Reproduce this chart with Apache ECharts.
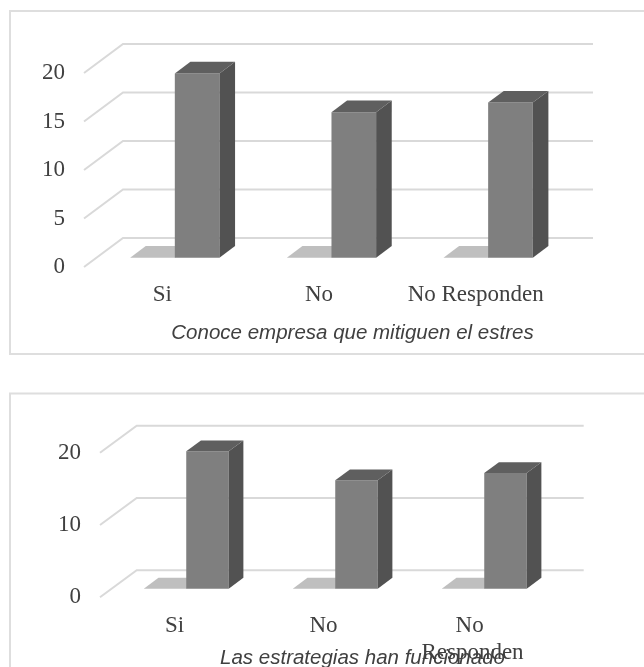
<!DOCTYPE html>
<html>
<head>
<meta charset="utf-8">
<script src="https://cdn.jsdelivr.net/npm/echarts@6/dist/echarts.min.js"></script>
<style>
  html, body { margin: 0; padding: 0; background: #ffffff; }
  #chart { width: 644px; height: 667px; }
</style>
</head>
<body>
<div id="chart"></div>
<script>
// ---- data ----
const categories = ['Si', 'No', 'No Responden'];
const conoceTitle = 'Conoce empresa que mitiguen el estres';
const conoceFlat = [0, 0, 0];        // light series (all zero, drawn as floor tiles)
const conoceValues = [19, 15, 16];   // dark series
const conoceTicks = [0, 5, 10, 15, 20];

const estrategiasTitle = 'Las estrategias han funcionado';
const estrategiasFlat = [0, 0, 0];
const estrategiasValues = [19, 15, 16];
const estrategiasTicks = [0, 10, 20];

// ---- 3D look ----
const FRONT = 0.32;     // depth fraction of the bars' front faces
const BACK = 0.72;      // depth fraction of the bars' back faces
const BAR_FRAC = 0.285; // bar width as a share of the category band
const GRID_LINE = '#d9d9d9';
const TEXT = '#404040';
const SERIF = "'Liberation Serif', 'Times New Roman', serif";
const SANS = "'Liberation Sans', Arial, sans-serif";

const palettes = [
  { front: '#bfbfbf', side: '#a6a6a6', top: '#bfbfbf' },
  { front: '#7f7f7f', side: '#525252', top: '#5f5f5f' }
];

const panels = [
  { grid: { left: 84, top: 73, width: 470, height: 194 }, depth: { dx: 39, dy: 29 },
    ticks: conoceTicks, interval: 5, series: [conoceFlat, conoceValues],
    labelMargin: 14.5, labelLineHeight: 27, wrap: false },
  { grid: { left: 100, top: 452.7, width: 447, height: 144.6 }, depth: { dx: 36.7, dy: 27 },
    ticks: estrategiasTicks, interval: 10, series: [estrategiasFlat, estrategiasValues],
    labelMargin: 14.5, labelLineHeight: 27.6, wrap: true }
];

function wallRenderer(depth) {
  return function (params, api) {
    const cs = params.coordSys;
    const y = api.coord([0, api.value(1)])[1];
    const xl = cs.x, xr = cs.x + cs.width;
    return {
      type: 'polyline',
      shape: { points: [[xl, y], [xl + depth.dx, y - depth.dy], [xr + depth.dx, y - depth.dy]] },
      style: { stroke: GRID_LINE, lineWidth: 2, fill: null }
    };
  };
}

function boxRenderer(depth, k, pal) {
  return function (params, api) {
    const i = api.value(0);
    const base = api.coord([i, 0]);
    const top = api.coord([i, api.value(1)]);
    const w = api.size([1, 0])[0] * BAR_FRAC;
    const fx = depth.dx * FRONT, fy = depth.dy * FRONT;
    const bx = depth.dx * (BACK - FRONT), by = depth.dy * (BACK - FRONT);
    const x0 = base[0] + fx + (k - 1) * w, x1 = x0 + w;
    const yb = base[1] - fy, yt = top[1] - fy;
    const children = [];
    if (yb - yt > 0.5) {
      children.push({ type: 'rect', shape: { x: x0, y: yt, width: w, height: yb - yt },
        style: { fill: pal.front } });
      children.push({ type: 'polygon',
        shape: { points: [[x1, yt], [x1 + bx, yt - by], [x1 + bx, yb - by], [x1, yb]] },
        style: { fill: pal.side } });
    }
    children.push({ type: 'polygon',
      shape: { points: [[x0, yt], [x0 + bx, yt - by], [x1 + bx, yt - by], [x1, yt]] },
      style: { fill: pal.top } });
    return { type: 'group', children: children };
  };
}

const grid = [], xAxis = [], yAxis = [], series = [];
panels.forEach((p, gi) => {
  grid.push(Object.assign({ containLabel: false }, p.grid));
  xAxis.push({
    type: 'category', gridIndex: gi, data: categories,
    axisLine: { show: false }, axisTick: { show: false }, splitLine: { show: false },
    axisLabel: Object.assign({
      interval: 0, margin: p.labelMargin, fontFamily: SERIF, fontSize: 23,
      lineHeight: p.labelLineHeight, color: TEXT
    }, p.wrap ? { width: 110, overflow: 'break' } : {})
  });
  yAxis.push({
    type: 'value', gridIndex: gi, min: 0, max: p.ticks[p.ticks.length - 1], interval: p.interval,
    axisLine: { show: false }, axisTick: { show: false }, splitLine: { show: false },
    axisLabel: { margin: 19, fontFamily: SERIF, fontSize: 23, color: TEXT }
  });
  series.push({
    type: 'custom', xAxisIndex: gi, yAxisIndex: gi, z: 1, clip: false, silent: true,
    data: p.ticks.map(t => [0, t]),
    renderItem: wallRenderer(p.depth)
  });
  p.series.forEach((vals, k) => {
    series.push({
      type: 'custom', xAxisIndex: gi, yAxisIndex: gi, z: 2 + k, clip: false, silent: true,
      data: vals.map((v, i) => [i, v]),
      renderItem: boxRenderer(p.depth, k, palettes[k])
    });
  });
});

const chart = echarts.init(document.getElementById('chart'), null, { renderer: 'canvas' });
chart.setOption({
  backgroundColor: '#ffffff',
  animation: false,
  grid: grid, xAxis: xAxis, yAxis: yAxis, series: series,
  graphic: [
    { type: 'rect', z: 0, shape: { x: 10, y: 11, width: 700, height: 343 },
      style: { fill: null, stroke: '#dedede', lineWidth: 2 } },
    { type: 'rect', z: 0, shape: { x: 10, y: 393.5, width: 700, height: 400 },
      style: { fill: null, stroke: '#dedede', lineWidth: 2 } },
    { type: 'text', z: 10, x: 352.5, y: 333,
      style: { text: conoceTitle, align: 'center', verticalAlign: 'middle',
        font: 'italic 20.5px ' + SANS, fill: TEXT } },
    { type: 'text', z: 10, x: 362.5, y: 658,
      style: { text: estrategiasTitle, align: 'center', verticalAlign: 'middle',
        font: 'italic 20.5px ' + SANS, fill: TEXT } }
  ]
});
</script>
</body>
</html>
